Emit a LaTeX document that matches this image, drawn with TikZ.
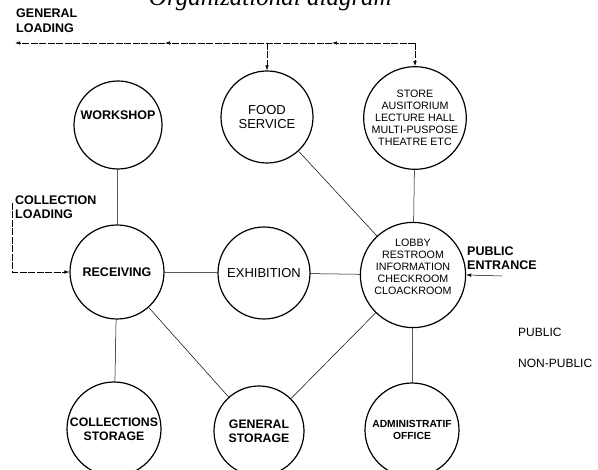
\documentclass[tikz,border=0pt]{standalone}
\usepackage{fontspec}
\setmainfont{Liberation Sans}
\newfontfamily\titlefont{Liberation Serif}
\usetikzlibrary{arrows.meta}

\begin{document}
\begin{tikzpicture}[x=1pt,y=-1pt,
    room/.style={circle,draw,line width=1.2pt,inner sep=0pt,minimum size=#1,align=center},
    link/.style={line width=0.5pt},
    load/.style={line width=0.6pt,dash pattern=on 7pt off 1.5pt,-{Latex[length=5pt,width=3.5pt]}},
    heavy/.style={font=\fontsize{12.5}{14}\selectfont\bfseries},
    plain/.style={font=\fontsize{13}{14}\selectfont},
    small/.style={font=\fontsize{10.7}{12}\selectfont},
    tag/.style={inner sep=0pt,align=left,font=\fontsize{12.5}{14.5}\selectfont\bfseries}]

    \clip (0,0) rectangle (598,470);

    % title, cut by the top edge
    \node[anchor=base east,inner sep=0pt,font=\titlefont\itshape\fontsize{25}{25}\selectfont] (title) at (392,6) {Organizational diagram};

    % rooms
    \node[room=88,heavy,text depth=20pt] (workshop) at (118,125) {WORKSHOP};
    \node[room=92,plain] (food) at (267,117) {FOOD\\SERVICE};
    \node[room=92,small] (store) at (415,118) {STORE\\AUSITORIUM\\LECTURE HALL\\MULTI-PUSPOSE\\THEATRE ETC};
    \node[room=94,heavy] (receiving) at (117,272) {RECEIVING};
    \node[room=92,plain] (exhibition) at (264,273) {EXHIBITION};
    \node[room=94,small,text depth=16pt] (lobby) at (413,275) {LOBBY\\RESTROOM\\INFORMATION\\CHECKROOM\\CLOACKROOM};
    \node[room=94,font=\fontsize{12.3}{14}\selectfont\bfseries] (collstore) at (114,429) {COLLECTIONS\\STORAGE};
    \node[room=90,font=\fontsize{12.3}{14}\selectfont\bfseries] (genstore) at (259,431) {GENERAL\\STORAGE};
    \node[room=94,font=\fontsize{10.3}{12}\selectfont\bfseries] (admin) at (412,430) {ADMINISTRATIF\\OFFICE};

    % links
    \draw[link] (workshop) -- (receiving);
    \draw[link] (receiving) -- (exhibition);
    \draw[link] (exhibition) -- (lobby);
    \draw[link] (food) -- (lobby);
    \draw[link] (store) -- (lobby);
    \draw[link] (receiving) -- (collstore);
    \draw[link] (receiving) -- (genstore);
    \draw[link] (lobby) -- (genstore);
    \draw[link] (lobby) -- (admin);

    % general loading
    \node[tag,anchor=north west] (gltext) at (16,9) {GENERAL\\LOADING};
    \coordinate (gload) at (15,43);
    \coordinate (j2) at (store.north |- gload);
    \coordinate (j1) at (food.north |- gload);
    \coordinate (m2) at (332,43);
    \coordinate (m1) at (165,43);
    \draw[load] (j2) -- (m2);
    \draw[load] (m2) -- (m1);
    \draw[load] (m1) -- (gload);
    \draw[load] (j1) -- (food.north);
    \draw[load] (j2) -- (store.north);

    % collection loading
    \node[tag,anchor=west] (cltext) at (15,207) {COLLECTION\\LOADING};
    \coordinate (cload) at (12,203);
    \draw[load] (cload) |- (receiving.west);

    % public entrance
    \node[tag,anchor=west] (petext) at (467,258) {PUBLIC\\ENTRANCE};
    \coordinate (pent) at (502,276);
    \draw[line width=0.5pt,-{Latex[length=5pt,width=3.5pt]}] (pent) -- (lobby.east);

    % legend
    \node[anchor=west,inner sep=0pt,font=\fontsize{12}{14}\selectfont] (pub) at (518,332) {PUBLIC};
    \node[anchor=west,inner sep=0pt,font=\fontsize{12}{14}\selectfont] (nonpub) at (518,363) {NON-PUBLIC};

\end{tikzpicture}
\end{document}
